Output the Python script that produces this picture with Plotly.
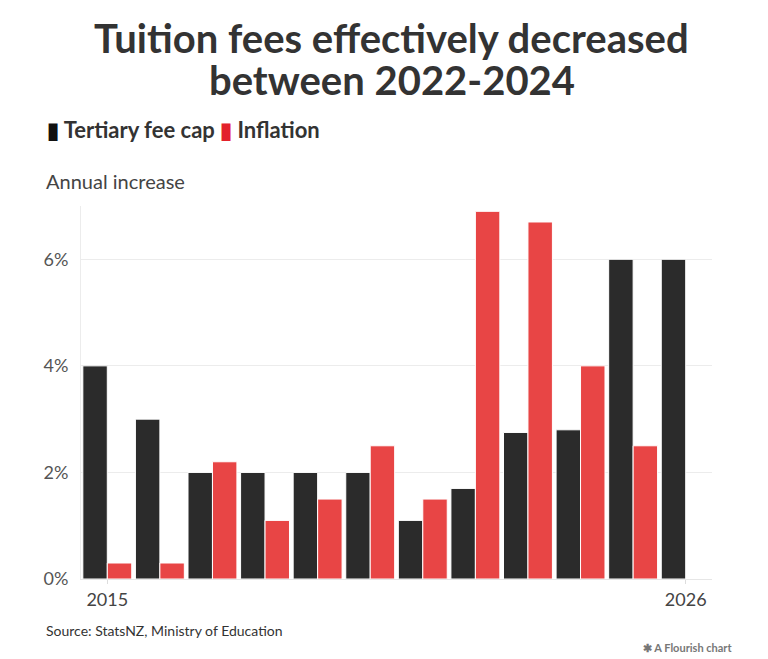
import plotly.graph_objects as go

# data
years = [2015, 2016, 2017, 2018, 2019, 2020, 2021, 2022, 2023, 2024, 2025, 2026]
fee_cap = [4.0, 3.0, 2.0, 2.0, 2.0, 2.0, 1.1, 1.7, 2.75, 2.8, 6.0, 6.0]
inflation = [0.3, 0.3, 2.2, 1.1, 1.5, 2.5, 1.5, 6.9, 6.7, 4.0, 2.5, None]

y_ticks = [0, 2, 4, 6]
x_ticks = [2015, 2026]

FONT = "Lato"
BLACK = "#2b2b2b"
RED = "#e84545"

fig = go.Figure()

fig.add_trace(go.Bar(x=years, y=fee_cap, name="Tertiary fee cap",
                     marker=dict(color=BLACK, line=dict(color="white", width=1))))
fig.add_trace(go.Bar(x=years, y=inflation, name="Inflation",
                     marker=dict(color=RED, line=dict(color="white", width=1))))


def note(text, x, y, xshift, yshift, size, color, xanchor="left"):
    fig.add_annotation(text=text, xref="paper", yref="paper", x=x, y=y,
                       xanchor=xanchor, yanchor="middle", xshift=xshift, yshift=yshift,
                       showarrow=False, font=dict(family=FONT, size=size, color=color))


# title, one annotation per line so the line spacing can be set
note("<b>Tuition fees effectively decreased</b>", 0.5, 1, -5, 168, 40, "#333333", "center")
note("<b>between 2022-2024</b>", 0.5, 1, -5, 126, 40, "#333333", "center")

# legend drawn as text with coloured glyphs
note("<b><span style='color:#111111'>▮</span> Tertiary fee cap "
     "<span style='color:#e3212b'>▮</span> Inflation</b>", 0, 1, -36, 77, 22, "#333333")

note("Annual increase", 0, 1, -37, 25, 20, "#444444")
note("Source: StatsNZ, Ministry of Education", 0, 0, -37, -51, 14, "#333333")
note("<b>✱ A Flourish chart</b>", 1, 0, 22, -68, 11, "#777777", "right")

# the page adds an 8px body margin, so the figure is 8px smaller
fig.update_layout(
    width=760, height=651,
    margin=dict(l=73, r=56, t=198, b=80),
    paper_bgcolor="white", plot_bgcolor="white",
    barmode="group", bargap=0.07, bargroupgap=0,
    showlegend=False,
    font=dict(family=FONT),
)

fig.update_xaxes(range=[2014.5, 2026.5], tickvals=x_ticks, ticktext=[str(v) for v in x_ticks],
                 showgrid=False, showline=True, linecolor="#e6e6e6", linewidth=1,
                 ticks="outside", ticklen=4, tickcolor="#dddddd",
                 tickfont=dict(family=FONT, size=18, color="#444444"))
fig.update_yaxes(range=[0, 7], tickvals=y_ticks, ticktext=[f"{v}%" for v in y_ticks],
                 showgrid=True, gridcolor="#ececec", gridwidth=1,
                 showline=True, linecolor="#ececec", zeroline=False,
                 ticklabelstandoff=8,
                 tickfont=dict(family=FONT, size=18, color="#555555"))

fig.write_html("out.html")
